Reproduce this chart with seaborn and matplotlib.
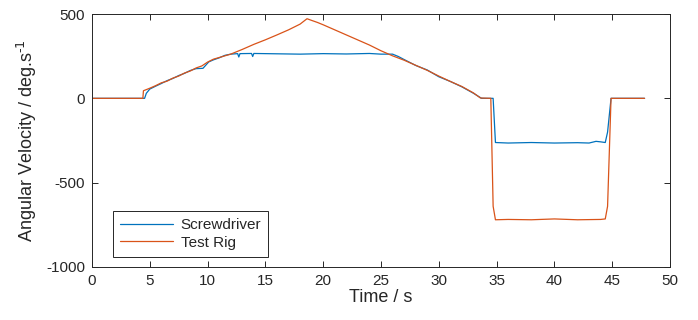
import numpy as np
import pandas as pd
import matplotlib
matplotlib.use("Agg")
import matplotlib.pyplot as plt
import seaborn as sns

# ---- data ----
rig_t = [0, 4.40, 4.45, 5.0, 5.5, 6.0, 6.5, 7.0, 7.5, 8.0, 8.5, 9.0, 9.5, 10.0, 10.5,
         11.0, 11.5, 12.0, 13.0, 14.0, 15.0, 16.0, 17.0, 18.0, 18.6, 19.0, 19.5, 20.0,
         21.0, 22.0, 23.0, 24.0, 25.0, 26.0, 27.0, 28.0, 29.0, 30.0, 31.0, 32.0, 33.0,
         33.6, 34.5, 34.7, 34.9, 36.0, 38.0, 40.0, 42.0, 44.0, 44.4, 44.6, 44.9, 47.8]
rig_v = [0, 0, 45, 60, 75, 92, 102, 120, 132, 150, 162, 180, 192, 215, 232,
         242, 252, 262, 290, 320, 347, 376, 406, 440, 472, 462, 450, 436,
         406, 376, 346, 316, 282, 252, 226, 196, 166, 132, 100, 70, 32,
         2, 0, -640, -720, -718, -720, -715, -720, -718, -715, -640, 0, 0]

drv_t = [0, 4.55, 4.70, 5.0, 5.5, 6.0, 6.5, 7.0, 7.5, 8.0, 8.5, 9.0, 9.6, 10.1, 10.5,
         11.0, 11.5, 12.0, 12.6, 12.7, 12.8, 13.8, 13.9, 14.0, 16.0, 18.0, 20.0, 22.0,
         24.0, 25.0, 26.0, 26.5, 27.0, 28.0, 29.0, 30.0, 31.0, 32.0, 33.0, 33.7, 34.7,
         34.9, 36.0, 38.0, 40.0, 42.0, 43.0, 43.6, 44.0, 44.4, 44.6, 44.9, 47.8]
drv_v = [0, 0, 30, 55, 72, 88, 105, 118, 135, 148, 165, 176, 178, 216, 228,
         240, 255, 262, 265, 245, 265, 266, 248, 266, 264, 262, 265, 263,
         266, 262, 262, 248, 230, 195, 168, 128, 100, 68, 30, 0, 0,
         -262, -265, -262, -265, -263, -265, -255, -258, -262, -200, 0, 0]

series_names = ["Screwdriver", "Test Rig"]
colors = ["#0072BD", "#D95319"]

df = pd.concat([
    pd.DataFrame({"Time": drv_t, "Vel": drv_v, "Series": series_names[0]}),
    pd.DataFrame({"Time": rig_t, "Vel": rig_v, "Series": series_names[1]}),
], ignore_index=True)

sns.set_style("white")
plt.rcParams["font.family"] = ["Liberation Sans", "DejaVu Sans"]
plt.rcParams["mathtext.default"] = "regular"
plt.rcParams["axes.unicode_minus"] = False

fig = plt.figure(figsize=(6.98, 3.2), dpi=100)
ax = fig.add_axes([92/698, 1-267/320, (670-92)/698, (267-14)/320])

sns.lineplot(data=df, x="Time", y="Vel", hue="Series", hue_order=series_names,
             palette=colors, sort=False, estimator=None, units="Series",
             linewidth=0.9, ax=ax, legend=True)

ax.set_xlim(0, 50)
ax.set_ylim(-1000, 500)
ax.set_xticks(np.arange(0, 51, 5))
ax.set_yticks([-1000, -500, 0, 500])
ax.set_xlabel("Time / s", fontsize=13, color="#262626", labelpad=1)
ax.set_ylabel(r"Angular Velocity / deg.s$^{\text{-1}}$",
              fontsize=13, color="#262626", labelpad=5)

ax.tick_params(axis="both", direction="in", length=4, width=0.7, colors="#262626",
               labelsize=11, top=True, right=True, bottom=True, left=True, pad=5)
for s in ax.spines.values():
    s.set_visible(True)
    s.set_color("#262626")
    s.set_linewidth(0.7)

leg = ax.legend(loc="lower left", bbox_to_anchor=(0.036, 0.041), borderaxespad=0,
                fontsize=11, frameon=True, fancybox=False, edgecolor="#262626",
                framealpha=1, handlelength=3.5, borderpad=0.45, labelspacing=0.25,
                handletextpad=0.5)
leg.get_frame().set_linewidth(0.7)

fig.savefig("out.png", dpi=100)
